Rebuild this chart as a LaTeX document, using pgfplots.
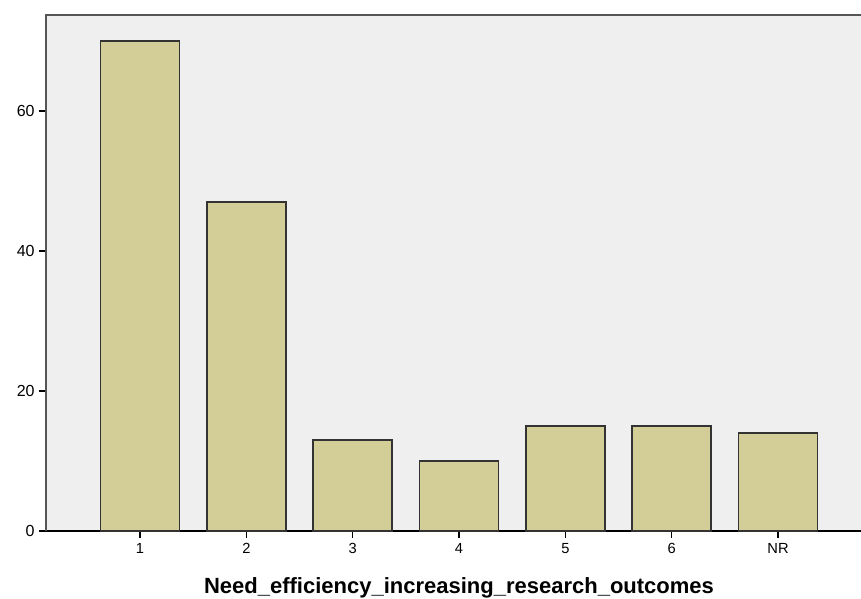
\documentclass[border=0pt]{standalone}
\usepackage{pgfplots}
\pgfplotsset{compat=1.18}
\usepackage{fontspec}
\setmainfont{Liberation Sans}
\definecolor{bg}{HTML}{EFEFEF}
\definecolor{barfill}{HTML}{D3CE97}
\definecolor{frame}{HTML}{555555}
\begin{document}
\begin{tikzpicture}
\begin{axis}[
  at={(34.5pt,51pt)}, anchor=south west,
  scale only axis,
  width=619.5pt, height=387pt,
  xmin=-0.884, xmax=6.884,
  ymin=0, ymax=73.7,
  axis background/.style={fill=bg},
  axis x line*=bottom,
  axis y line*=left,
  axis line style={black, line width=0.9pt},
  xtick={0,1,2,3,4,5,6},
  xticklabels={1,2,3,4,5,6,NR},
  ytick={0,20,40,60},
  tick align=outside,
  major tick length=5pt,
  tick style={black, line width=0.9pt},
  xticklabel style={font=\fontsize{11}{13}\selectfont, yshift=-1pt},
  yticklabel style={font=\fontsize{12}{14}\selectfont, xshift=0pt},
  /pgf/number format/assume math mode=true,
  xlabel={\textbf{Need\_efficiency\_increasing\_research\_outcomes}},
  xlabel style={font=\fontsize{16.5}{19}\selectfont, yshift=-11pt},
  clip=false,
]
\addplot[ybar, bar width=0.745, fill=barfill, draw=black!80, line width=1.2pt]
  coordinates {(0,70) (1,47) (2,13) (3,10) (4,15) (5,15) (6,14)};
\draw[frame, line width=1.5pt] (rel axis cs:0,0) -- (rel axis cs:0,1) -- (rel axis cs:1,1);
\end{axis}
\pgfresetboundingbox
\useasboundingbox (0pt,0pt) rectangle (645.75pt,449.25pt);
\end{tikzpicture}
\end{document}
